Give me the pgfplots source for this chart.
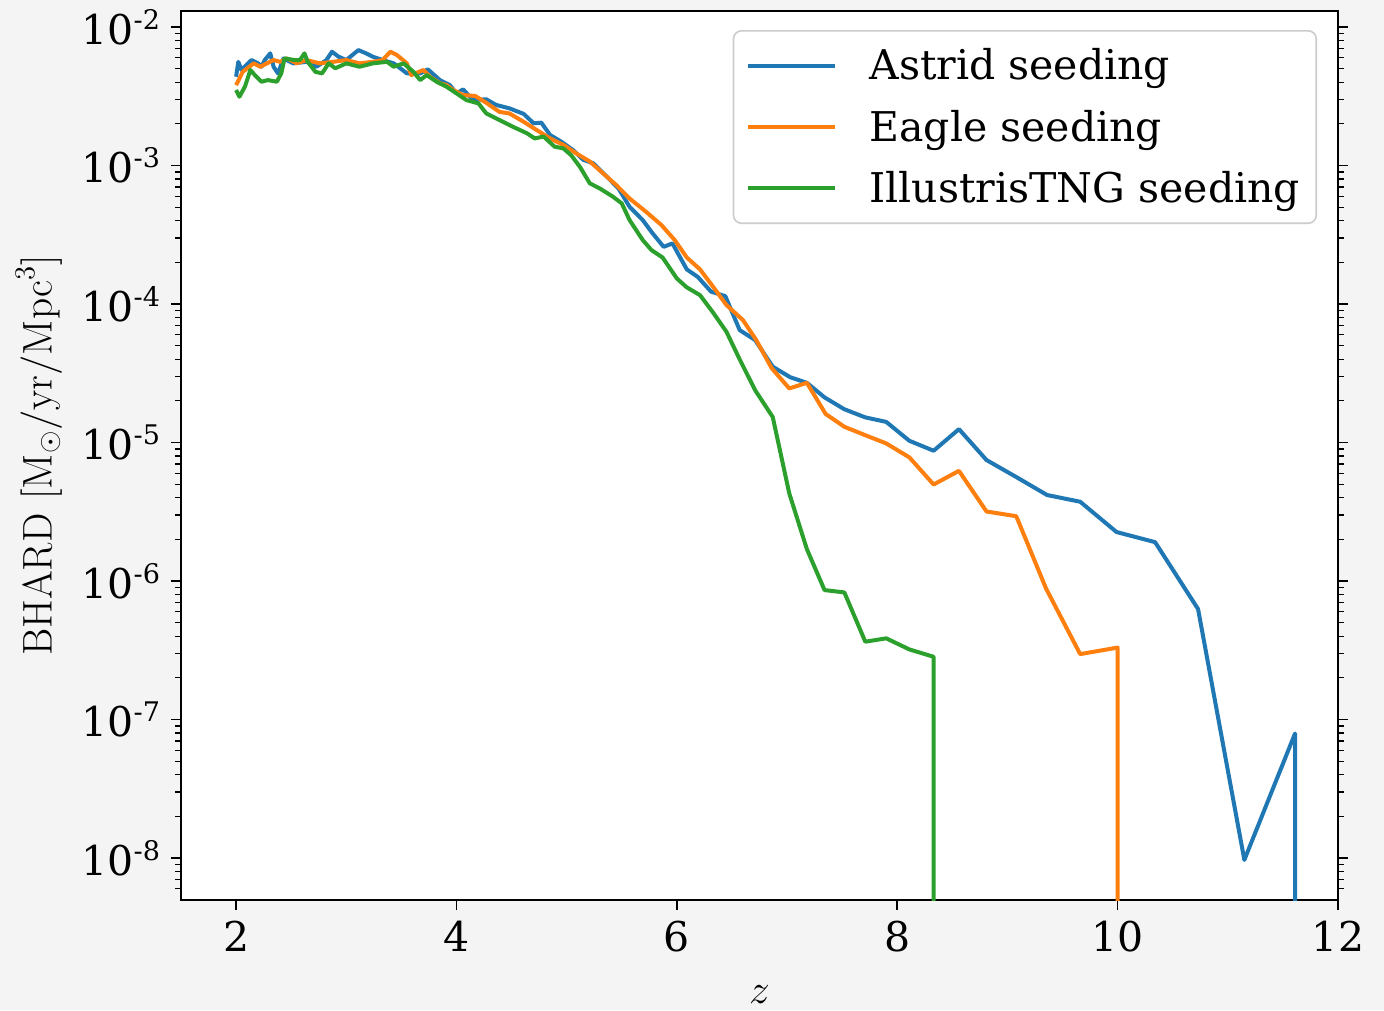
\documentclass[border=0pt]{standalone}
\usepackage[no-math]{fontspec}
\setmainfont{DejaVu Serif}
\usepackage{pgfplots}
\usepackage{pgfplotstable}
\pgfplotsset{compat=1.18}

\definecolor{tabblue}{HTML}{1F77B4}
\definecolor{taborange}{HTML}{FF7F0E}
\definecolor{tabgreen}{HTML}{2CA02C}
\definecolor{pagebg}{HTML}{F4F4F4}

% power-of-ten tick label with a hyphen exponent
\newcommand{\dec}[1]{10\raisebox{7.5pt}{\fontsize{13.5}{13.5}\selectfont #1}}

% BH accretion rate density vs redshift; the last row of each run is the
% first snapshot with no accretion (drawn as a drop off the bottom).
\pgfplotstableread{
z      bhard
2.00   4.38e-3
2.02   5.61e-3
2.05   4.90e-3
2.11   5.47e-3
2.14   5.78e-3
2.20   5.47e-3
2.23   5.17e-3
2.26   5.78e-3
2.31   6.46e-3
2.34   5.17e-3
2.38   4.63e-3
2.43   5.94e-3
2.52   5.47e-3
2.64   5.61e-3
2.73   5.17e-3
2.82   5.78e-3
2.87   6.64e-3
2.93   6.11e-3
3.00   5.78e-3
3.11   6.82e-3
3.18   6.46e-3
3.24   6.11e-3
3.33   5.78e-3
3.43   5.47e-3
3.49   5.04e-3
3.55   4.63e-3
3.67   4.63e-3
3.74   4.95e-3
3.85   4.14e-3
3.94   3.81e-3
4.00   3.32e-3
4.06   3.55e-3
4.15   2.97e-3
4.27   3.01e-3
4.36   2.74e-3
4.48   2.59e-3
4.61   2.36e-3
4.70   2.02e-3
4.77   2.04e-3
4.85   1.66e-3
4.95   1.49e-3
5.06   1.29e-3
5.15   1.10e-3
5.24   1.04e-3
5.35   8.53e-4
5.47   6.84e-4
5.57   5.05e-4
5.69   4.04e-4
5.78   3.24e-4
5.88   2.59e-4
5.96   2.74e-4
6.09   1.78e-4
6.19   1.57e-4
6.31   1.23e-4
6.44   1.14e-4
6.57   6.49e-5
6.71   5.50e-5
6.87   3.53e-5
7.03   2.96e-5
7.18   2.70e-5
7.34   2.12e-5
7.52   1.74e-5
7.71   1.52e-5
7.90   1.41e-5
8.11   1.03e-5
8.33   8.73e-6
8.56   1.25e-5
8.81   7.48e-6
9.08   5.64e-6
9.36   4.18e-6
9.66   3.74e-6
9.99   2.26e-6
10.34  1.91e-6
10.73  6.28e-7
11.15  9.70e-9
11.61  7.94e-8
11.61  1e-12
}\astrid

\pgfplotstableread{
z      bhard
2.00   3.81e-3
2.06   4.75e-3
2.16   5.47e-3
2.22   5.17e-3
2.28   5.47e-3
2.34   5.78e-3
2.40   5.61e-3
2.46   5.94e-3
2.55   5.47e-3
2.64   5.78e-3
2.76   5.47e-3
2.88   5.61e-3
3.00   5.78e-3
3.12   5.47e-3
3.24   5.61e-3
3.33   5.78e-3
3.40   6.64e-3
3.46   6.28e-3
3.55   5.47e-3
3.59   4.50e-3
3.70   4.90e-3
3.76   4.38e-3
3.85   3.93e-3
3.91   3.81e-3
3.97   3.51e-3
4.06   3.23e-3
4.17   3.18e-3
4.27   2.84e-3
4.39   2.44e-3
4.48   2.38e-3
4.61   2.07e-3
4.73   1.80e-3
4.85   1.57e-3
4.97   1.41e-3
5.09   1.22e-3
5.21   1.07e-3
5.33   8.79e-4
5.45   7.23e-4
5.57   5.79e-4
5.72   4.64e-4
5.86   3.72e-4
5.98   2.90e-4
6.09   2.17e-4
6.21   1.78e-4
6.33   1.33e-4
6.45   9.84e-5
6.60   7.66e-5
6.72   5.50e-5
6.86   3.45e-5
7.02   2.46e-5
7.18   2.70e-5
7.35   1.61e-5
7.52   1.30e-5
7.71   1.13e-5
7.90   9.86e-6
8.11   7.82e-6
8.33   4.98e-6
8.56   6.25e-6
8.81   3.18e-6
9.08   2.94e-6
9.35   8.85e-7
9.66   2.97e-7
10.00  3.31e-7
10.00  1e-12
}\eagle

\pgfplotstableread{
z      bhard
2.00   3.51e-3
2.03   3.14e-3
2.08   3.71e-3
2.13   4.90e-3
2.17   4.50e-3
2.23   4.03e-3
2.29   4.14e-3
2.37   4.03e-3
2.41   4.63e-3
2.44   5.94e-3
2.53   5.78e-3
2.58   5.78e-3
2.62   6.46e-3
2.65   5.61e-3
2.72   4.75e-3
2.78   4.63e-3
2.84   5.47e-3
2.90   5.04e-3
3.00   5.47e-3
3.12   5.17e-3
3.24   5.47e-3
3.37   5.61e-3
3.43   5.17e-3
3.52   5.47e-3
3.61   4.75e-3
3.67   4.14e-3
3.73   4.50e-3
3.82   4.03e-3
3.91   3.71e-3
4.00   3.32e-3
4.09   2.97e-3
4.20   2.81e-3
4.27   2.38e-3
4.39   2.13e-3
4.51   1.91e-3
4.64   1.71e-3
4.71   1.57e-3
4.79   1.62e-3
4.89   1.37e-3
4.97   1.33e-3
5.04   1.19e-3
5.12   9.80e-4
5.21   7.44e-4
5.30   6.84e-4
5.42   5.96e-4
5.50   5.33e-4
5.57   4.05e-4
5.69   2.90e-4
5.77   2.45e-4
5.87   2.17e-4
6.00   1.53e-4
6.09   1.32e-4
6.21   1.16e-4
6.33   8.65e-5
6.45   6.31e-5
6.57   3.99e-5
6.71   2.39e-5
6.87   1.53e-5
7.02   4.30e-6
7.18   1.70e-6
7.34   8.61e-7
7.52   8.28e-7
7.71   3.65e-7
7.90   3.86e-7
8.11   3.21e-7
8.33   2.84e-7
8.33   1e-12
}\tng

\begin{document}
\begin{tikzpicture}[x=1pt,y=1pt]
\useasboundingbox (0,0) rectangle (692,505);
\fill[pagebg] (0,0) rectangle (692,505);
\begin{axis}[
  at={(90.5pt,55pt)}, anchor=south west,
  scale only axis, width=578.5pt, height=444.5pt,
  xmin=1.5, xmax=12,
  ymode=log, ymin=4.98e-9, ymax=1.306e-2,
  axis background/.style={fill=white},
  axis line style={line width=1pt, black},
  tick align=outside,
  xtick pos=bottom, ytick pos=both,
  major tick length=5pt, minor tick length=2.8pt,
  every tick/.style={black, line width=0.8pt},
  minor tick style={line width=0.6pt},
  xtick={2,4,6,8,10,12},
  xticklabels={2,4,6,8,10,12},
  ytick={1e-8,1e-7,1e-6,1e-5,1e-4,1e-3,1e-2},
  yticklabels={\dec{-8},\dec{-7},\dec{-6},\dec{-5},\dec{-4},\dec{-3},\dec{-2}},
  minor ytick={6e-9,7e-9,8e-9,9e-9,
    2e-8,3e-8,4e-8,5e-8,6e-8,7e-8,8e-8,9e-8,
    2e-7,3e-7,4e-7,5e-7,6e-7,7e-7,8e-7,9e-7,
    2e-6,3e-6,4e-6,5e-6,6e-6,7e-6,8e-6,9e-6,
    2e-5,3e-5,4e-5,5e-5,6e-5,7e-5,8e-5,9e-5,
    2e-4,3e-4,4e-4,5e-4,6e-4,7e-4,8e-4,9e-4,
    2e-3,3e-3,4e-3,5e-3,6e-3,7e-3,8e-3,9e-3},
  ticklabel style={font=\fontsize{20.5}{24}\selectfont},
  xticklabel style={yshift=-2pt},
  yticklabel style={xshift=-2pt},
  xlabel={$z$},
  xlabel style={font=\fontsize{22}{26}\selectfont, at={(axis description cs:0.5,0)}, anchor=center, yshift=-47.5pt},
  ylabel={$\mathrm{BHARD}\ [\mathrm{M}_\odot/\mathrm{yr}/\mathrm{Mpc}^3]$},
  ylabel style={font=\fontsize{22}{26}\selectfont, at={([xshift=-71pt]axis description cs:0,0.5)}, anchor=center},
  legend cell align=left,
  legend style={
    at={(axis cs:12,1.306e-2)}, anchor=north east,
    xshift=-10.5pt, yshift=-9.5pt,
    draw=black!20, line width=0.8pt, rounded corners=4pt, fill=white,
    font=\fontsize{20.5}{24}\selectfont,
    row sep=9.5pt, inner xsep=6pt, inner ysep=7pt,
    /tikz/every odd column/.append style={column sep=14.5pt},
  },
  legend image code/.code={\draw[#1] (0pt,0pt) -- (43.5pt,0pt);},
  every axis plot/.append style={line width=2pt, line join=round},
]
\addplot[tabblue] table[x=z, y=bhard] {\astrid};
\addlegendentry{Astrid seeding}
\addplot[taborange] table[x=z, y=bhard] {\eagle};
\addlegendentry{Eagle seeding}
\addplot[tabgreen] table[x=z, y=bhard] {\tng};
\addlegendentry{IllustrisTNG seeding}
\end{axis}
\end{tikzpicture}
\end{document}
